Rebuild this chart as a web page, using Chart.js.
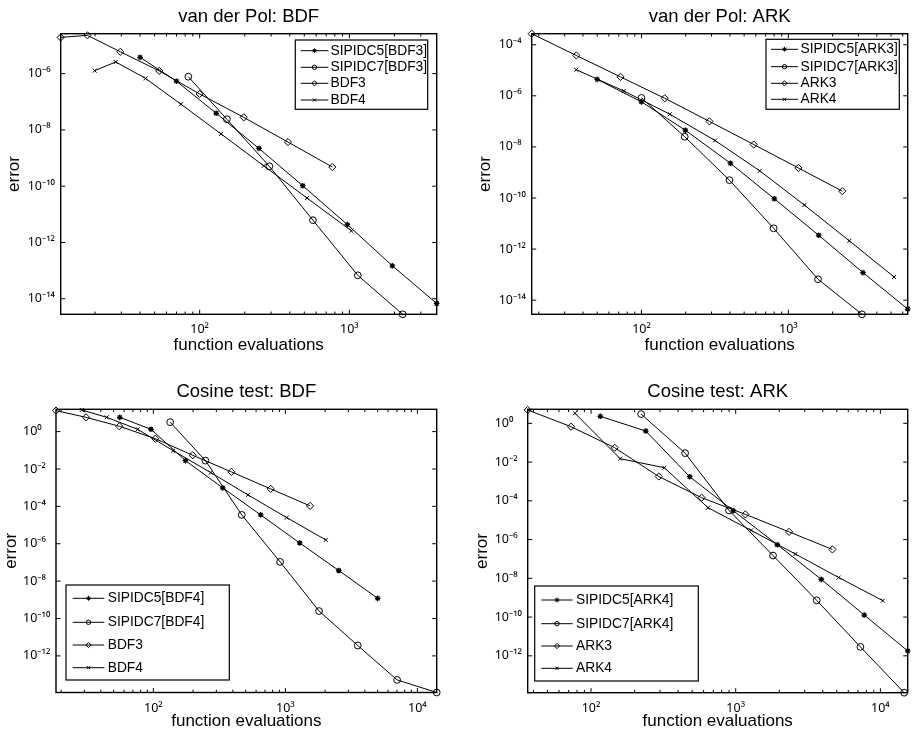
<!DOCTYPE html>
<html>
<head>
<meta charset="utf-8">
<script src="https://cdn.jsdelivr.net/npm/chart.js@4.4.1/dist/chart.umd.min.js"></script>
<style>
html,body{margin:0;padding:0;background:#fff;}
#wrap{position:relative;width:913px;height:730px;background:#fff;}
#wrap canvas{position:absolute;left:0;top:0;}
</style>
</head>
<body>
<div id="wrap">
<canvas id="c1" width="913" height="730"></canvas>
<canvas id="c2" width="913" height="730"></canvas>
<canvas id="c3" width="913" height="730"></canvas>
<canvas id="c4" width="913" height="730"></canvas>
</div>
<script>
// ---------------- DATA ----------------
// Panel 1: van der Pol: BDF
const vdpBdfLabels = ['SIPIDC5[BDF3]', 'SIPIDC7[BDF3]', 'BDF3', 'BDF4'];
const vdpBdfS5X = [40, 70, 129, 249, 488, 970, 1937, 3830];
const vdpBdfS5Y = [3.8e-6, 5.4e-7, 3.9e-8, 2.2e-9, 1.04e-10, 4.3e-12, 1.48e-13, 6.8e-15];
const vdpBdfS7X = [84, 152, 292, 571, 1138, 2270];
const vdpBdfS7Y = [7.8e-7, 2.4e-8, 5.1e-10, 6.2e-12, 6.8e-14, 2.8e-15];
const vdpBdf3X = [11.8, 17.8, 29.5, 53.7, 100, 197, 389, 769];
const vdpBdf3Y = [1.94e-5, 2.3e-5, 6.0e-6, 1.25e-6, 1.9e-7, 2.8e-8, 3.7e-9, 4.8e-10];
const vdpBdf4X = [19.9, 27.5, 43.5, 75, 139, 268, 521, 1031];
const vdpBdf4Y = [1.28e-6, 2.6e-6, 6.8e-7, 8.2e-8, 7.2e-9, 5.3e-10, 3.8e-11, 2.6e-12];
const vdpBdfXRange = [11.8, 3830];
const vdpBdfYRange = [2.8e-15, 2.63e-5];
const vdpBdfXTicks = [1e2, 1e3];
const vdpBdfYTicks = [1e-6, 1e-8, 1e-10, 1e-12, 1e-14];

// Panel 2: van der Pol: ARK
const vdpArkLabels = ['SIPIDC5[ARK3]', 'SIPIDC7[ARK3]', 'ARK3', 'ARK4'];
const vdpArkS5X = [50, 100, 199, 403, 803, 1607, 3220, 6490];
const vdpArkS5Y = [4.4e-6, 5.8e-7, 4.5e-8, 2.3e-9, 9.3e-11, 3.5e-12, 1.2e-13, 4.5e-15];
const vdpArkS7X = [100, 197, 397, 794, 1592, 3170];
const vdpArkS7Y = [8.3e-7, 2.5e-8, 5.0e-10, 6.5e-12, 6.6e-14, 2.8e-15];
const vdpArk3X = [17.9, 36, 72, 144, 290, 581, 1169, 2328];
const vdpArk3Y = [2.7e-4, 3.8e-5, 5.5e-6, 8.0e-7, 1.0e-7, 1.24e-8, 1.5e-9, 1.85e-10];
const vdpArk4X = [36, 75.8, 156, 317, 638, 1285, 2600, 5240];
const vdpArk4Y = [1.05e-5, 1.55e-6, 1.9e-7, 1.78e-8, 1.16e-9, 5.3e-11, 2.1e-12, 8.1e-14];
const vdpArkXRange = [17.9, 6490];
const vdpArkYRange = [2.8e-15, 2.7e-4];
const vdpArkXTicks = [1e2, 1e3];
const vdpArkYTicks = [1e-4, 1e-6, 1e-8, 1e-10, 1e-12, 1e-14];

// Panel 3: Cosine test: BDF
const cosBdfLabels = ['SIPIDC5[BDF4]', 'SIPIDC7[BDF4]', 'BDF3', 'BDF4'];
const cosBdfS5X = [55.6, 96, 175, 335, 650, 1284, 2536, 5000];
const cosBdfS5Y = [5.8, 1.33, 0.028, 9.8e-4, 3.5e-5, 1.1e-6, 3.7e-8, 1.2e-9];
const cosBdfS7X = [134, 248, 467, 912, 1800, 3533, 7016, 14000];
const cosBdfS7Y = [3.2, 0.028, 3.5e-5, 1.07e-7, 2.5e-10, 3.6e-12, 5.2e-14, 1.1e-14];
const cosBdf3X = [18.3, 30.9, 55.2, 103.5, 198.6, 390, 774, 1538];
const cosBdf3Y = [13.3, 5.8, 1.93, 0.42, 0.054, 7.0e-3, 8.6e-4, 1.06e-4];
const cosBdf4X = [28.7, 44.3, 76, 141, 272, 521, 1024, 2023];
const cosBdf4Y = [14.4, 5.8, 1.33, 0.096, 6.4e-3, 4.1e-4, 2.5e-5, 1.6e-6];
const cosBdfXRange = [18.3, 14000];
const cosBdfYRange = [1.1e-14, 15.6];
const cosBdfXTicks = [1e2, 1e3, 1e4];
const cosBdfYTicks = [1e0, 1e-2, 1e-4, 1e-6, 1e-8, 1e-10, 1e-12];

// Panel 4: Cosine test: ARK
const cosArkLabels = ['SIPIDC5[ARK4]', 'SIPIDC7[ARK4]', 'ARK3', 'ARK4'];
const cosArkS5X = [116, 239, 481, 963, 1941, 3909, 7746, 15450];
const cosArkS5Y = [2.3, 0.40, 1.76e-3, 3.1e-5, 5.4e-7, 8.8e-9, 1.27e-10, 1.8e-12];
const cosArkS7X = [222, 447, 899, 1811, 3630, 7280, 14600];
const cosArkS7Y = [3.0, 0.029, 3.2e-5, 1.5e-7, 7.3e-10, 2.9e-12, 1.25e-14];
const cosArk3X = [36.5, 72.8, 145.8, 294, 582, 1166, 2339, 4660];
const cosArk3Y = [4.9, 0.67, 0.055, 1.8e-3, 1.45e-4, 2.0e-5, 2.5e-6, 3.1e-7];
const cosArk4X = [77.5, 159, 321, 644, 1277, 2585, 5150, 10400];
const cosArk4Y = [3.3, 0.015, 5.1e-3, 4.4e-5, 3.0e-6, 1.8e-7, 1.1e-8, 7.0e-10];
const cosArkXRange = [36.5, 15450];
const cosArkYRange = [1.25e-14, 5.3];
const cosArkXTicks = [1e2, 1e3, 1e4];
const cosArkYTicks = [1e0, 1e-2, 1e-4, 1e-6, 1e-8, 1e-10, 1e-12];

// ---------------- RENDERING ----------------
const FONT = "'Liberation Sans', Arial, Helvetica, sans-serif";
const TICKFONT = "'Noto Sans', 'DejaVu Sans', sans-serif";
Chart.defaults.font.family = FONT;
Chart.defaults.color = '#000';

const SUP = {'-':'\u207B','0':'\u2070','1':'\u00B9','2':'\u00B2','3':'\u00B3','4':'\u2074','5':'\u2075','6':'\u2076','7':'\u2077','8':'\u2078','9':'\u2079'};
function powLabel(v) {
  const e = Math.round(Math.log10(v));
  return '10' + String(e).split('').map(c => SUP[c]).join('');
}
function pts(xs, ys) { return xs.map((x, i) => ({x: x, y: ys[i]})); }

const MARKERS = [
  {pointStyle: 'star', radius: 2.8, fill: '#000', lr: 2.4},
  {pointStyle: 'circle', radius: 3.4, fill: 'rgba(0,0,0,0)', lr: 2.2},
  {pointStyle: 'rectRot', radius: 3.6, fill: 'rgba(0,0,0,0)', lr: 2.6},
  {pointStyle: 'crossRot', radius: 2.8, fill: 'rgba(0,0,0,0)', lr: 2.2}
];

const matlabAxes = {
  id: 'matlabAxes',
  afterDraw(chart, args, opts) {
    const ctx = chart.ctx, a = chart.chartArea, xs = chart.scales.x, ys = chart.scales.y;
    ctx.save();
    ctx.strokeStyle = '#000';
    ctx.lineWidth = 1;
    ctx.beginPath();
    const lo = Math.floor(Math.log10(xs.min)), hi = Math.ceil(Math.log10(xs.max));
    for (let d = lo; d <= hi; d++) {
      for (let m = 1; m <= 9; m++) {
        const v = m * Math.pow(10, d);
        if (v < xs.min * 0.999 || v > xs.max * 1.001) continue;
        const px = xs.getPixelForValue(v);
        const len = m === 1 ? 4.5 : 2.8;
        ctx.moveTo(px, a.bottom); ctx.lineTo(px, a.bottom - len);
        ctx.moveTo(px, a.top); ctx.lineTo(px, a.top + len);
      }
    }
    ys.ticks.forEach(t => {
      const py = ys.getPixelForValue(t.value);
      ctx.moveTo(a.left, py); ctx.lineTo(a.left + 4.5, py);
      ctx.moveTo(a.right, py); ctx.lineTo(a.right - 4.5, py);
    });
    ctx.stroke();
    ctx.lineWidth = 1.4;
    ctx.strokeRect(a.left, a.top, a.right - a.left, a.bottom - a.top);

    // legend box
    const L = opts.legend;
    ctx.fillStyle = '#fff';
    ctx.fillRect(L.x, L.y, L.w, L.h);
    ctx.lineWidth = 1.2;
    ctx.strokeRect(L.x, L.y, L.w, L.h);
    ctx.font = '13.8px ' + FONT;
    ctx.textBaseline = 'middle';
    ctx.textAlign = 'left';
    chart.data.datasets.forEach((ds, i) => {
      const yy = L.y + L.rows[i];
      ctx.strokeStyle = '#000';
      ctx.lineWidth = 1;
      ctx.beginPath();
      ctx.moveTo(L.x1, yy); ctx.lineTo(L.x2, yy);
      ctx.stroke();
      ctx.fillStyle = MARKERS[i].fill;
      Chart.helpers.drawPoint(ctx, {pointStyle: MARKERS[i].pointStyle, radius: MARKERS[i].lr, borderWidth: 1, rotation: 0}, (L.x1 + L.x2) / 2, yy);
      ctx.fillStyle = '#000';
      ctx.fillText(ds.label, L.tx, yy);
    });
    ctx.restore();
  }
};

function makePanel(id, p) {
  const W = 33;           // y-axis box width (labels start here)
  const TS = 18.5;        // title font size
  const titlePad = 17 - TS * 1.2 / 2;
  const titleBlock = TS * 1.2 + titlePad;
  const H = p.xTitleOff + 17 * 1.2 / 2;
  const series = [
    pts(p.s5x, p.s5y), pts(p.s7x, p.s7y), pts(p.b3x, p.b3y), pts(p.b4x, p.b4y)
  ];
  const datasets = series.map((d, i) => ({
    label: p.labels[i],
    data: d,
    borderColor: '#000',
    borderWidth: 1,
    backgroundColor: MARKERS[i].fill,
    pointStyle: MARKERS[i].pointStyle,
    pointRadius: MARKERS[i].radius,
    pointBorderWidth: i === 0 ? 1.3 : 1,
    pointBorderColor: '#000',
    pointBackgroundColor: MARKERS[i].fill,
    tension: 0,
    fill: false,
    clip: false
  }));
  return new Chart(document.getElementById(id), {
    type: 'line',
    data: {datasets: datasets},
    options: {
      responsive: false,
      animation: false,
      devicePixelRatio: 1,
      layout: {padding: {left: p.L - W, top: p.T - titleBlock, right: 913 - p.R, bottom: 730 - (p.B + H)}},
      plugins: {
        legend: {display: false},
        tooltip: {enabled: false},
        title: {display: true, text: p.title, fullSize: false, color: '#000',
                font: {size: TS, weight: 'normal', lineHeight: 1.2}, padding: {top: 0, bottom: titlePad}},
        matlabAxes: {legend: p.legend}
      },
      scales: {
        x: {
          type: 'logarithmic', min: p.xRange[0], max: p.xRange[1], bounds: 'data',
          afterBuildTicks: s => { s.ticks = p.xTicks.map(v => ({value: v})); },
          afterFit: s => { s.height = H; },
          grid: {display: false, drawTicks: false},
          border: {display: false},
          ticks: {callback: v => powLabel(v), font: {size: 12.5, family: TICKFONT}, padding: 8, maxRotation: 0, autoSkip: false, color: '#000'},
          title: {display: true, text: 'function evaluations', font: {size: 17}, padding: 0, color: '#000'}
        },
        y: {
          type: 'logarithmic', min: p.yRange[0], max: p.yRange[1], bounds: 'data',
          afterBuildTicks: s => { s.ticks = p.yTicks.map(v => ({value: v})); },
          afterFit: s => { s.width = W; },
          grid: {display: false, drawTicks: false},
          border: {display: false},
          ticks: {callback: v => powLabel(v), font: {size: 12.5, family: TICKFONT}, crossAlign: 'far', autoSkip: false, color: '#000'},
          title: {display: true, text: 'error', font: {size: 17}, padding: {top: W - p.yTitleOff - 17 * 1.2 / 2, bottom: 0}, color: '#000'}
        }
      }
    },
    plugins: [matlabAxes]
  });
}

Chart.register(matlabAxes);

makePanel('c1', {
  title: 'van der Pol: BDF', labels: vdpBdfLabels,
  s5x: vdpBdfS5X, s5y: vdpBdfS5Y, s7x: vdpBdfS7X, s7y: vdpBdfS7Y,
  b3x: vdpBdf3X, b3y: vdpBdf3Y, b4x: vdpBdf4X, b4y: vdpBdf4Y,
  xRange: vdpBdfXRange, yRange: vdpBdfYRange, xTicks: vdpBdfXTicks, yTicks: vdpBdfYTicks,
  L: 60.7, T: 33.7, R: 436.7, B: 314.3, xTitleOff: 30.7, yTitleOff: 46.4,
  legend: {x: 295.3, y: 40, w: 132.4, h: 69.3, rows: [10.7, 27.3, 43.3, 60], x1: 300.7, x2: 328.3, tx: 330.5}
});
makePanel('c2', {
  title: 'van der Pol: ARK', labels: vdpArkLabels,
  s5x: vdpArkS5X, s5y: vdpArkS5Y, s7x: vdpArkS7X, s7y: vdpArkS7Y,
  b3x: vdpArk3X, b3y: vdpArk3Y, b4x: vdpArk4X, b4y: vdpArk4Y,
  xRange: vdpArkXRange, yRange: vdpArkYRange, xTicks: vdpArkXTicks, yTicks: vdpArkYTicks,
  L: 531.7, T: 33.7, R: 907.7, B: 314.3, xTitleOff: 30.7, yTitleOff: 46.7,
  legend: {x: 766, y: 39.3, w: 133.3, h: 70, rows: [10, 27.4, 44, 60], x1: 771, x2: 798, tx: 800.5}
});
makePanel('c3', {
  title: 'Cosine test: BDF', labels: cosBdfLabels,
  s5x: cosBdfS5X, s5y: cosBdfS5Y, s7x: cosBdfS7X, s7y: cosBdfS7Y,
  b3x: cosBdf3X, b3y: cosBdf3Y, b4x: cosBdf4X, b4y: cosBdf4Y,
  xRange: cosBdfXRange, yRange: cosBdfYRange, xTicks: cosBdfXTicks, yTicks: cosBdfYTicks,
  L: 56, T: 409.3, R: 436.7, B: 692.5, xTitleOff: 28.7, yTitleOff: 44.3,
  legend: {x: 66, y: 585, w: 163.3, h: 95, rows: [13.3, 37.3, 60, 82.7], x1: 72.7, x2: 104.3, tx: 107.7}
});
makePanel('c4', {
  title: 'Cosine test: ARK', labels: cosArkLabels,
  s5x: cosArkS5X, s5y: cosArkS5Y, s7x: cosArkS7X, s7y: cosArkS7Y,
  b3x: cosArk3X, b3y: cosArk3Y, b4x: cosArk4X, b4y: cosArk4Y,
  xRange: cosArkXRange, yRange: cosArkYRange, xTicks: cosArkXTicks, yTicks: cosArkYTicks,
  L: 527.7, T: 409.3, R: 907.7, B: 692.7, xTitleOff: 28.3, yTitleOff: 45,
  legend: {x: 534.7, y: 586, w: 163.6, h: 95, rows: [14, 37.7, 60, 82.3], x1: 541.3, x2: 572.7, tx: 576}
});
</script>
</body>
</html>
